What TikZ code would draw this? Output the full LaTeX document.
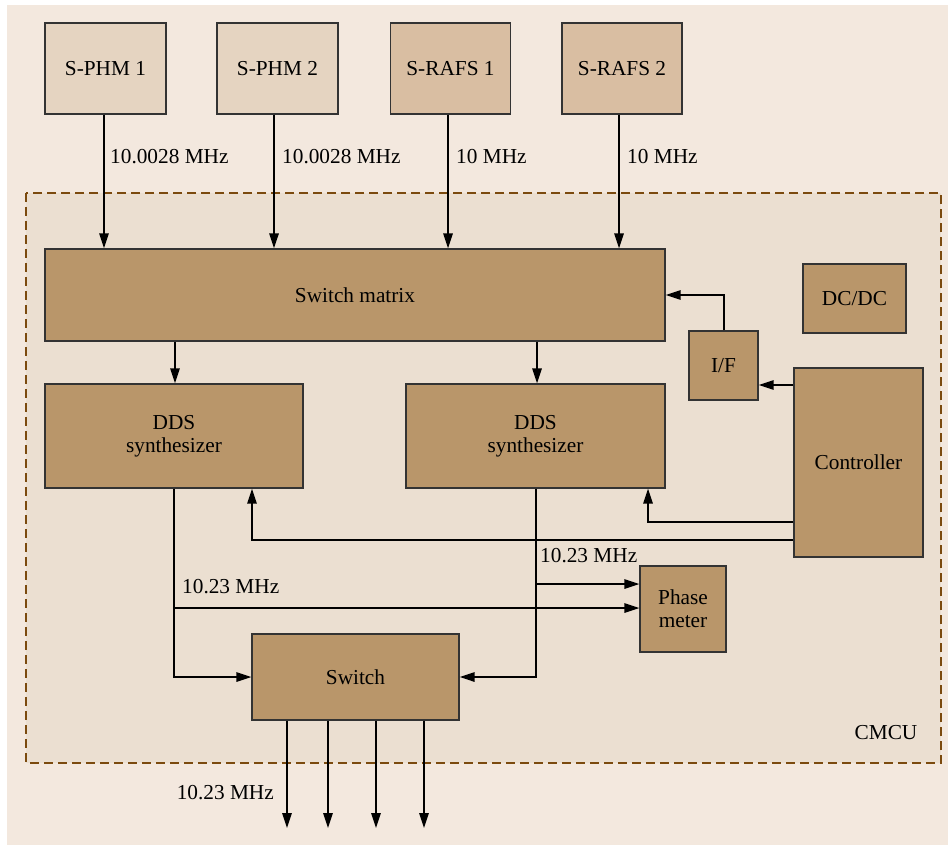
\documentclass[tikz,border=0pt]{standalone}
\usepackage{fontspec}
\setmainfont{Liberation Serif}
\usetikzlibrary{arrows.meta}
\definecolor{bgout}{HTML}{F3E8DE}
\definecolor{bgin}{HTML}{EBDFD1}
\definecolor{phmc}{HTML}{E5D4C1}
\definecolor{rafsc}{HTML}{D9BEA2}
\definecolor{blockc}{HTML}{B9966A}
\definecolor{dashc}{HTML}{7B4A0E}
\definecolor{edgec}{HTML}{333333}
\tikzset{
  box/.style={draw=edgec, line width=1.3pt, inner sep=0pt, align=center},
  phmbox/.style={box, fill=phmc, minimum width=121pt, minimum height=91pt},
  rafsbox/.style={box, fill=rafsc, minimum width=120pt, minimum height=91pt},
  blk/.style={box, fill=blockc},
  arr/.style={line width=1.5pt, -{Triangle[length=15pt,width=9.5pt]}},
  lbl/.style={inner sep=0pt},
}
\begin{document}
\begin{tikzpicture}[x=1pt,y=-1pt,font=\rmfamily\fontsize{21.3}{23}\selectfont]
\useasboundingbox (0,0) rectangle (948,845);
\fill[bgout] (7,5) rectangle (948,845);
\draw[dashc, fill=bgin, line width=2.2pt, dash pattern=on 9pt off 5pt] (26,193) rectangle (941,763);

% sources
\node[phmbox] (phm1) at (105.5,68.5) {S-PHM 1};
\node[phmbox] (phm2) at (277.5,68.5) {S-PHM 2};
\node[rafsbox] (rafs1) at (450.5,68.5) {S-RAFS 1};
\node[rafsbox] (rafs2) at (622,68.5) {S-RAFS 2};

% blocks
\node[blk, minimum width=620pt, minimum height=92pt] (sm) at (355,295) {Switch matrix};
\node[blk, minimum width=103pt, minimum height=69pt] (dcdc) at (854.5,298.5) {DC/DC};
\node[blk, minimum width=69pt, minimum height=69pt] (if) at (723.5,365.5) {I/F};
\node[blk, minimum width=129pt, minimum height=189pt] (ctrl) at (858.5,462.5) {Controller};
\node[blk, minimum width=258pt, minimum height=104pt] (dds1) at (174,436) {DDS\\synthesizer};
\node[blk, minimum width=259pt, minimum height=104pt] (dds2) at (535.5,436) {DDS\\synthesizer};
\node[blk, minimum width=86pt, minimum height=86pt] (pm) at (683,609) {Phase\\meter};
\node[blk, minimum width=207pt, minimum height=86pt] (sw) at (355.5,677) {Switch};

\node[lbl] (cmcu) at (886,733) {CMCU};

% inputs
\draw[arr] ([xshift=-1.5pt]phm1.south) -- ([xshift=-1.5pt]phm1.south |- sm.north);
\draw[arr] ([xshift=-3.5pt]phm2.south) -- ([xshift=-3.5pt]phm2.south |- sm.north);
\draw[arr] ([xshift=-2.5pt]rafs1.south) -- ([xshift=-2.5pt]rafs1.south |- sm.north);
\draw[arr] ([xshift=-3pt]rafs2.south) -- ([xshift=-3pt]rafs2.south |- sm.north);
\node[lbl, anchor=west] (l1) at (110,157) {10.0028 MHz};
\node[lbl, anchor=west] (l2) at (282,157) {10.0028 MHz};
\node[lbl, anchor=west] (l3) at (456,157) {10 MHz};
\node[lbl, anchor=west] (l4) at (627,157) {10 MHz};

% switch matrix to DDS
\draw[arr] ([xshift=1pt]dds1.north |- sm.south) -- ([xshift=1pt]dds1.north);
\draw[arr] ([xshift=1.5pt]dds2.north |- sm.south) -- ([xshift=1.5pt]dds2.north);

% I/F and controller
\draw[arr] ([xshift=0.5pt]if.north) |- (sm.east);
\draw[arr] (ctrl.west |- 0,385) -- (if.east |- 0,385);
\draw[arr] (ctrl.west |- 0,522) -| ([xshift=112.5pt]dds2.south);
\draw[arr] (ctrl.west |- 0,540) -| ([xshift=78pt]dds1.south);

% DDS outputs
\draw[arr] (dds1.south) |- (sw.west);
\draw[arr] (dds1.south |- 0,608) -- (pm.west |- 0,608);
\draw[arr] ([xshift=0.5pt]dds2.south) |- (sw.east);
\draw[arr] ([xshift=0.5pt]dds2.south |- 0,584) -- (pm.west |- 0,584);
\node[lbl, anchor=west] (l5) at (182,587) {10.23 MHz};
\node[lbl, anchor=west] (l6) at (540,556) {10.23 MHz};

% switch outputs
\coordinate (o1) at (287,828);
\coordinate (o2) at (328,828);
\coordinate (o3) at (376,828);
\coordinate (o4) at (424,828);
\draw[arr] (o1 |- sw.south) -- (o1);
\draw[arr] (o2 |- sw.south) -- (o2);
\draw[arr] (o3 |- sw.south) -- (o3);
\draw[arr] (o4 |- sw.south) -- (o4);
\node[lbl, anchor=east] (l7) at (274,793) {10.23 MHz};
\end{tikzpicture}
\end{document}
